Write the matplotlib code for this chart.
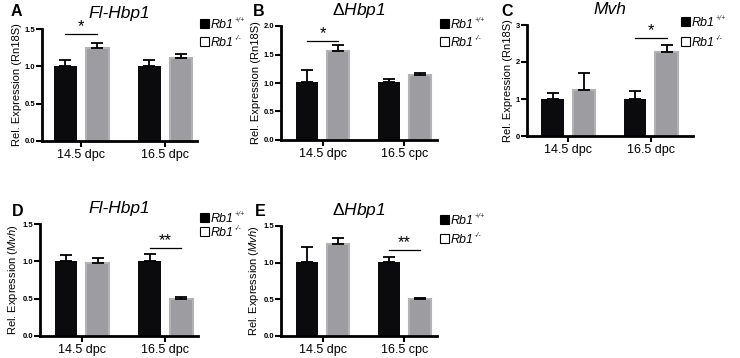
import numpy as np
import matplotlib
matplotlib.use('Agg')
import matplotlib.pyplot as plt
from matplotlib.patches import Rectangle
from matplotlib.text import Annotation

plt.rcParams['font.family'] = ['Liberation Sans', 'DejaVu Sans']
plt.rcParams['mathtext.fontset'] = 'custom'
plt.rcParams['mathtext.rm'] = 'Liberation Sans'
plt.rcParams['mathtext.it'] = 'Liberation Sans:italic'
plt.rcParams['mathtext.bf'] = 'Liberation Sans:bold'

# ---- data ----
letters = ['A', 'B', 'C', 'D', 'E']
titles = ['Fl-Hbp1', r'$\Delta$Hbp1', 'Mvh', 'Fl-Hbp1', r'$\Delta$Hbp1']
groups_a = ['14.5 dpc', '16.5 dpc']
groups_b = ['14.5 dpc', '16.5 cpc']
xlabels = [groups_a, groups_b, groups_a, groups_a, groups_b]

wt_vals = [[1.0, 1.0], [1.02, 1.02], [1.0, 1.0], [1.0, 1.0], [1.01, 1.01]]
wt_err = [[0.08, 0.09], [0.21, 0.05], [0.16, 0.22], [0.08, 0.10], [0.21, 0.07]]
ko_vals = [[1.24, 1.11], [1.56, 1.14], [1.25, 2.28], [0.98, 0.49], [1.26, 0.50]]
ko_err = [[0.07, 0.06], [0.10, 0.04], [0.46, 0.18], [0.07, 0.03], [0.08, 0.015]]

yticks = [[0, 0.5, 1.0, 1.5], [0, 0.5, 1.0, 1.5, 2.0], [0, 1, 2, 3],
          [0, 0.5, 1.0, 1.5], [0, 0.5, 1.0, 1.5]]
ytick_lbl = [['0.0', '0.5', '1.0', '1.5'], ['0.0', '0.5', '1.0', '1.5', '2.0'],
             ['0', '1', '2', '3'], ['0.0', '0.5', '1.0', '1.5'],
             ['0.0', '0.5', '1.0', '1.5']]
ylabels = ['Rel. Expression (Rn18S)'] * 3 + [r'Rel. Expression ($\mathit{Mvh}$)'] * 2

legend_names = ['Rb1', 'Rb1']
legend_sups = ['+/+', '-/-']

# significance: group index, line height, marker
sig_group = [0, 0, 1, 1, 1]
sig_y = [1.43, 1.73, 2.64, 1.18, 1.17]
sig_txt = ['*', '*', '*', '**', '**']

# layout in pixels
boxes = [(42, 197, 29, 141), (281, 437, 26, 140), (527, 693, 25, 136),
         (40, 198, 224, 336), (281, 437, 226, 336)]
xlims = [(-0.47, 1.38), (-0.51, 1.40), (-0.50, 1.51), (-0.50, 1.39), (-0.51, 1.40)]
letter_pos = [(16, 12), (259, 12), (507, 12), (18, 211), (260, 211)]
legend_pos = [(200, 19, 18), (440, 19, 18), (681, 17, 20), (200, 213, 14), (440, 215, 19)]

W, H = 740, 358
fig = plt.figure(figsize=(W / 100, H / 100), dpi=100)

black = '#0b0b0d'
grey = '#9d9ca1'
grey_edge = '#b3b3b5'
bw = 0.27
off = 0.19


def fx(px):
    return px / W


def fy(py):
    return 1 - py / H


for i in range(5):
    l, r, t, b = boxes[i]
    ax = fig.add_axes([fx(l), fy(b), (r - l) / W, (b - t) / H])
    x = np.arange(2)
    ax.bar(x - off, wt_vals[i], bw, color=black, zorder=2)
    ax.bar(x + off, ko_vals[i], bw, color=grey, edgecolor=grey_edge, linewidth=1.5, zorder=2)
    ax.errorbar(x - off, wt_vals[i], yerr=[np.zeros(2), wt_err[i]], fmt='none',
                ecolor='black', elinewidth=1.3, capsize=4, capthick=1.3, zorder=3)
    ax.errorbar(x + off, ko_vals[i], yerr=[np.zeros(2), ko_err[i]], fmt='none',
                ecolor='black', elinewidth=1.3, capsize=4, capthick=1.3, zorder=3)

    g = sig_group[i]
    ax.plot([g - off, g + off], [sig_y[i], sig_y[i]], color='black', lw=0.9, clip_on=False)
    ax.text(g, sig_y[i], sig_txt[i], ha='center', va='bottom', fontsize=12, clip_on=False)

    ax.set_xlim(*xlims[i])
    ax.set_ylim(yticks[i][0], yticks[i][-1])
    ax.set_yticks(yticks[i])
    ax.set_yticklabels(ytick_lbl[i], fontsize=5.5, fontweight='bold')
    ax.set_xticks(x)
    ax.set_xticklabels(xlabels[i], fontsize=9)
    ax.tick_params(axis='y', length=4, width=1.5, pad=1)
    ax.tick_params(axis='x', length=4, width=1.5, pad=2)
    for s in ['top', 'right']:
        ax.spines[s].set_visible(False)
    for s in ['left', 'bottom']:
        ax.spines[s].set_linewidth(2)
    ax.set_ylabel(ylabels[i], fontsize=8, labelpad=2)
    ax.set_title(titles[i], fontsize=12.5, style='italic', pad=8)

    lx, ly = letter_pos[i]
    fig.text(fx(lx), fy(ly), letters[i], fontsize=11.5, fontweight='bold',
             ha='center', va='center')

    # hand-made legend: filled and open squares
    gx, gy, step = legend_pos[i]
    for k in range(2):
        top = gy + k * step
        fc = 'black' if k == 0 else 'white'
        fig.add_artist(Rectangle((fx(gx), fy(top + 9)), 9 / W, 9 / H,
                                 transform=fig.transFigure, facecolor=fc,
                                 edgecolor='black', linewidth=0.8))
        name = fig.text(fx(gx + 11), fy(top + 9), legend_names[k], fontsize=9,
                        style='italic', ha='left', va='baseline')
        fig.add_artist(Annotation(legend_sups[k], xy=(1.0, 0.55), xycoords=name,
                                  xytext=(0.5, 0), textcoords='offset points',
                                  fontsize=5, style='italic', color='#333333',
                                  ha='left', va='bottom'))

fig.savefig('out.png', dpi=100)
